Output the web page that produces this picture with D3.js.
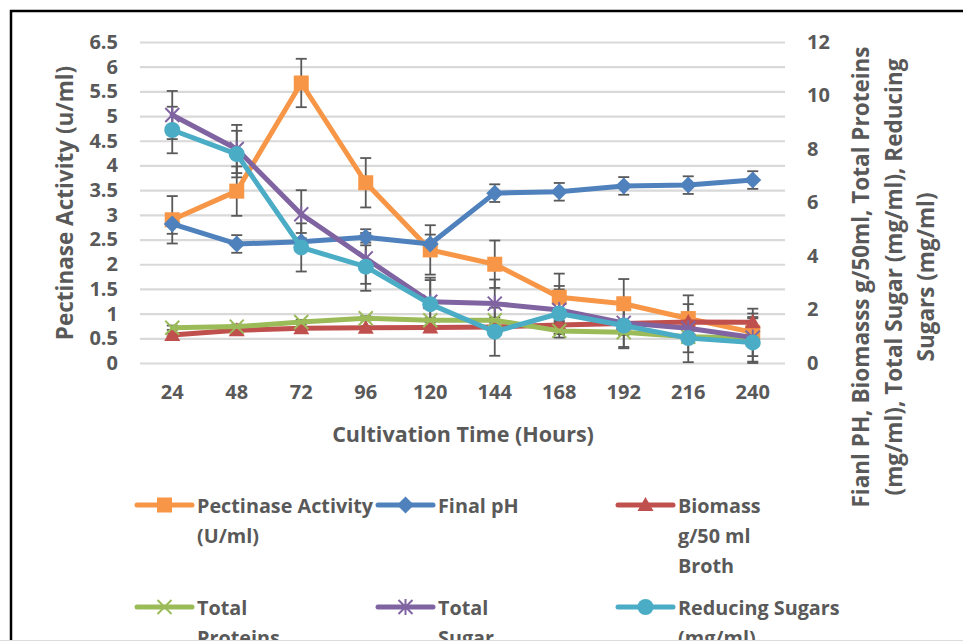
<!DOCTYPE html>
<html><head><meta charset="utf-8">
<script src="https://cdn.jsdelivr.net/npm/d3@7"></script>
<style>
html,body{margin:0;padding:0;background:#fff;overflow:hidden;}
svg{display:block;font-family:"Open Sans",sans-serif;}
</style></head>
<body>
<svg id="c" width="963" height="644"></svg>
<script>
const hours = [24,48,72,96,120,144,168,192,216,240];
const pectinase    = [2.90,3.48,5.67,3.65,2.29,2.00,1.33,1.20,0.90,0.62];
const pectinaseErr = [0.48,0.50,0.49,0.50,0.50,0.48,0.48,0.50,0.47,0.48];
const finalPH      = [5.20,4.45,4.53,4.70,4.45,6.35,6.40,6.62,6.65,6.84];
const finalPHErr   = [0.37,0.33,0.33,0.30,0.35,0.33,0.33,0.33,0.33,0.33];
const biomass      = [1.05,1.22,1.30,1.32,1.33,1.35,1.42,1.48,1.53,1.52];
const biomassErr   = [0.05,0.05,0.05,0.05,0.05,0.05,0.10,0.10,0.15,0.20];
const proteins     = [1.32,1.36,1.53,1.67,1.60,1.60,1.20,1.15,0.98,0.93];
const proteinsErr  = [0.08,0.08,0.08,0.08,0.08,0.10,0.10,0.10,0.10,0.10];
const totalSugar   = [9.27,8.00,5.56,3.91,2.29,2.22,1.98,1.50,1.30,0.95];
const totalSugarErr= [0.90,0.90,0.90,0.95,0.90,0.90,0.90,0.90,0.90,0.90];
const reducing     = [8.71,7.81,4.32,3.60,2.20,1.17,1.85,1.40,0.93,0.77];
const reducingErr  = [0.87,0.87,0.90,0.90,0.90,0.90,0.90,0.85,0.90,0.90];
const leftTicks  = [0,0.5,1,1.5,2,2.5,3,3.5,4,4.5,5,5.5,6,6.5];
const rightTicks = [0,2,4,6,8,10,12];
const leftTitle = "Pectinase Activity (u/ml)";
const rightTitle = ["Fianl PH, Biomasss g/50ml, Total Proteins","(mg/ml), Total Sugar (mg/ml), Reducing","Sugars (mg/ml)"];
const xTitle = "Cultivation Time (Hours)";

const series = [
  {name:["Pectinase Activity","(U/ml)"], values:pectinase, err:pectinaseErr, axis:"L", color:"#F79646", marker:"square"},
  {name:["Final pH"], values:finalPH, err:finalPHErr, axis:"R", color:"#4F81BD", marker:"diamond"},
  {name:["Biomass","g/50 ml","Broth"], values:biomass, err:biomassErr, axis:"R", color:"#C0504D", marker:"triangle"},
  {name:["Total","Proteins"], values:proteins, err:proteinsErr, axis:"R", color:"#9BBB59", marker:"x"},
  {name:["Total","Sugar"], values:totalSugar, err:totalSugarErr, axis:"R", color:"#8064A2", marker:"star"},
  {name:["Reducing Sugars","(mg/ml)"], values:reducing, err:reducingErr, axis:"R", color:"#4BACC6", marker:"circle"}
];

const TXT = "#595959";
const FONT = "'Open Sans', sans-serif";
const svg = d3.select("#c");
const P = {l:140, r:785, t:42, b:363};

const x = d3.scaleBand().domain(hours).range([P.l,P.r]);
const yL = d3.scaleLinear().domain([0,6.5]).range([P.b,P.t]);
const yR = d3.scaleLinear().domain([0,12]).range([P.b,P.t]);

// gridlines
svg.append("g").attr("transform",`translate(${P.l},0)`)
  .call(d3.axisLeft(yL).tickValues(leftTicks).tickSize(-(P.r-P.l)).tickFormat(""))
  .call(g=>g.select(".domain").remove())
  .call(g=>g.selectAll("line").attr("stroke","#d9d9d9").attr("stroke-width",2.2));

function styleTicks(g){
  g.select(".domain").remove();
  g.selectAll("text").attr("fill",TXT).attr("font-size",20).attr("font-weight","bold").attr("font-family",FONT);
}
// left axis labels
svg.append("g").attr("transform",`translate(118,0)`)
  .call(d3.axisLeft(yL).tickValues(leftTicks).tickSize(0).tickPadding(0).tickFormat(d=>String(d)))
  .call(styleTicks);

// right axis labels
svg.append("g").attr("transform",`translate(807,0)`)
  .call(d3.axisRight(yR).tickValues(rightTicks).tickSize(0).tickPadding(0).tickFormat(d=>String(d)))
  .call(styleTicks);

// x axis labels
svg.append("g").attr("transform",`translate(0,${P.b})`)
  .call(d3.axisBottom(x).tickSize(0).tickPadding(22))
  .call(styleTicks);

// titles
svg.append("text").attr("transform","translate(64,203) rotate(-90)")
  .attr("text-anchor","middle").attr("dominant-baseline","central")
  .attr("fill",TXT).attr("font-size",22.5).attr("font-weight","bold").text(leftTitle);
svg.append("text").attr("x",463).attr("y",442).attr("text-anchor","middle")
  .attr("fill",TXT).attr("font-size",21.5).attr("font-weight","bold").text(xTitle);
const rt = [860,893,925];
rightTitle.forEach((t,i)=>{
  svg.append("text").attr("transform",`translate(${rt[i]},277) rotate(-90)`)
    .attr("text-anchor","middle").attr("dominant-baseline","central")
    .attr("fill",TXT).attr("font-size",22.5).attr("font-weight","bold").text(t);
});

const cx = d => x(d) + x.bandwidth()/2;

function drawMarker(g, type, color, px, py){
  const s = 7.5;
  if(type==="square"){
    g.append("rect").attr("x",px-s).attr("y",py-s).attr("width",2*s).attr("height",2*s).attr("fill",color);
  } else if(type==="diamond"){
    g.append("path").attr("d",`M${px},${py-8.5}L${px+8.5},${py}L${px},${py+8.5}L${px-8.5},${py}Z`).attr("fill",color);
  } else if(type==="triangle"){
    g.append("path").attr("d",`M${px},${py-8}L${px+8},${py+6}L${px-8},${py+6}Z`).attr("fill",color);
  } else if(type==="circle"){
    g.append("circle").attr("cx",px).attr("cy",py).attr("r",8).attr("fill",color);
  } else if(type==="x"){
    g.append("path").attr("d",`M${px-7},${py-7}L${px+7},${py+7}M${px+7},${py-7}L${px-7},${py+7}`)
      .attr("stroke",color).attr("stroke-width",2).attr("fill","none");
  } else if(type==="star"){
    g.append("path").attr("d",`M${px-7},${py-7}L${px+7},${py+7}M${px+7},${py-7}L${px-7},${py+7}M${px},${py-8}L${px},${py+8}`)
      .attr("stroke",color).attr("stroke-width",2).attr("fill","none");
  }
}

// error bars
const eb = svg.append("g");
series.forEach(s=>{
  const y = s.axis==="L"?yL:yR;
  hours.forEach((h,i)=>{
    const px = cx(h), top = y(s.values[i]+s.err[i]), bot = y(Math.max(0,s.values[i]-s.err[i]));
    eb.append("line").attr("x1",px).attr("x2",px).attr("y1",top).attr("y2",bot).attr("stroke",TXT).attr("stroke-width",1.8);
    [top,bot].forEach(yy=>eb.append("line").attr("x1",px-5.5).attr("x2",px+5.5).attr("y1",yy).attr("y2",yy).attr("stroke",TXT).attr("stroke-width",1.8));
  });
});

// lines and markers
series.forEach(s=>{
  const y = s.axis==="L"?yL:yR;
  const g = svg.append("g");
  const line = d3.line().x((d,i)=>cx(hours[i])).y(d=>y(d));
  g.append("path").attr("d",line(s.values)).attr("fill","none").attr("stroke",s.color)
    .attr("stroke-width",5).attr("stroke-linejoin","round").attr("stroke-linecap","round");
  s.values.forEach((v,i)=>drawMarker(g,s.marker,s.color,cx(hours[i]),y(v)));
});

// legend
const legX = [137,378,618], legY = [505,607];
series.forEach((s,i)=>{
  const lx = legX[i%3], ly = legY[Math.floor(i/3)];
  const g = svg.append("g");
  g.append("line").attr("x1",lx).attr("x2",lx+55).attr("y1",ly).attr("y2",ly)
    .attr("stroke",s.color).attr("stroke-width",5).attr("stroke-linecap","round");
  drawMarker(g,s.marker,s.color,lx+27.5,ly);
  const t = g.append("text").attr("x",lx+60).attr("y",ly+8).attr("fill",TXT)
    .attr("font-size",19.8).attr("font-weight","bold");
  s.name.forEach((n,j)=>t.append("tspan").attr("x",lx+60).attr("dy",j===0?0:30).text(n));
});

// frame
svg.append("line").attr("x1",11).attr("x2",11).attr("y1",10).attr("y2",641).attr("stroke","#000").attr("stroke-width",2.5);
svg.append("line").attr("x1",10).attr("x2",963).attr("y1",11).attr("y2",11).attr("stroke","#000").attr("stroke-width",2.5);
svg.append("rect").attr("x",0).attr("y",640).attr("width",963).attr("height",4).attr("fill","#dcdcdc");
svg.append("rect").attr("x",0).attr("y",641).attr("width",963).attr("height",3).attr("fill","#ffffff");
</script>
</body></html>
